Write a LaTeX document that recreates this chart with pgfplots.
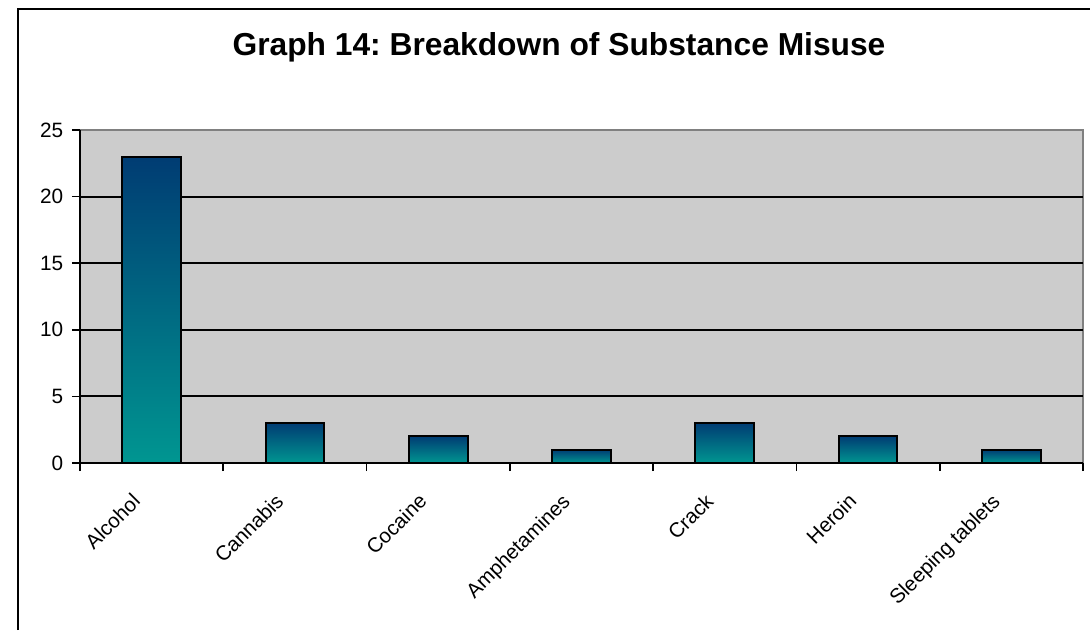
\documentclass[border=0pt]{standalone}
\usepackage{pgfplots}
\pgfplotsset{compat=1.18}
\usepackage{fontspec}
\setmainfont{Liberation Sans}
\definecolor{bg}{RGB}{204,204,204}
\definecolor{navyA}{RGB}{0,60,115}
\definecolor{tealA}{RGB}{0,150,145}
\begin{document}
\begin{tikzpicture}
\useasboundingbox (0,0) rectangle (436pt,252pt);
\draw[line width=0.8pt] (7.2pt,0) -- (7.2pt,248.4pt) -- (436pt,248.4pt);
\node[font=\bfseries\fontsize{12.7}{14}\selectfont] at (223.6pt,233.2pt) {Graph 14:\ Breakdown of Substance Misuse};
\begin{axis}[
 at={(32pt,66.8pt)}, anchor=south west, scale only axis,
 width=401.2pt, height=133.2pt,
 xmin=-0.5, xmax=6.5, ymin=0, ymax=25,
 axis x line*=bottom, axis y line*=left,
 axis line style={line width=0.8pt, -},
 axis background/.style={fill=bg, draw=gray, line width=0.8pt},
 xtick={0,...,6},
 xticklabels={Alcohol,Cannabis,Cocaine,Amphetamines,Crack,Heroin,Sleeping tablets},
 minor xtick={-0.5,0.5,...,6.5},
 ytick={0,5,...,25},
 minor ytick={5,10,15,20},
 yminorgrids, minor grid style={black, line width=0.8pt},
 tick align=outside, major tick length=3.2pt, minor tick length=3.2pt,
 tick style={black, line width=0.7pt},
 major x tick style={draw=none},
 minor y tick style={draw=none},
 xticklabel style={rotate=45, anchor=north east, font=\fontsize{8.2}{9}\selectfont, xshift=-8.35pt, yshift=3.4pt},
 yticklabel style={font=\fontsize{8.3}{9}\selectfont},
 /pgf/number format/assume math mode=true,
 ybar, bar width=0.41, bar shift=0pt,
 every axis plot post/.append style={draw=black, line width=0.8pt, top color=navyA, bottom color=tealA},
]
\addplot coordinates {(0,23)};
\addplot coordinates {(1,3)};
\addplot coordinates {(2,2)};
\addplot coordinates {(3,1)};
\addplot coordinates {(4,3)};
\addplot coordinates {(5,2)};
\addplot coordinates {(6,1)};
\end{axis}
\end{tikzpicture}
\end{document}
